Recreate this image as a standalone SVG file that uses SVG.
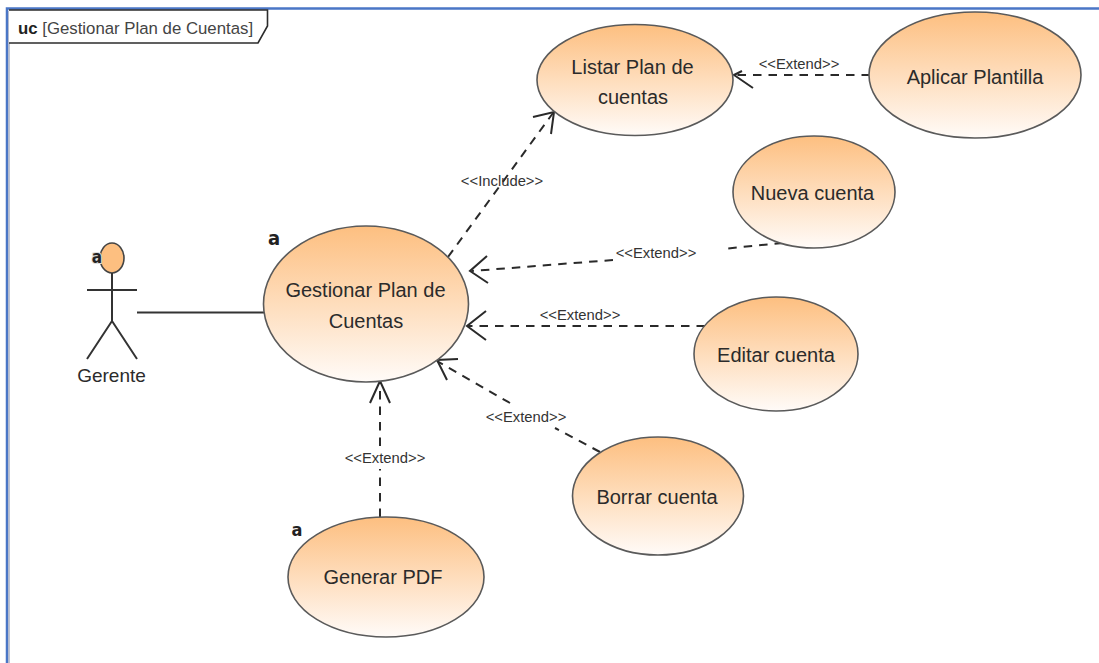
<svg xmlns="http://www.w3.org/2000/svg" width="1099" height="663" viewBox="0 0 1099 663">
<style>
text{font-family:"Liberation Sans",Arial,sans-serif;fill:#2b2b2b}
.uc{fill:url(#g);stroke:#5a5a5a;stroke-width:1.6}
.n{font-size:20px;text-anchor:middle}
.l{font-size:14.800px;text-anchor:middle;fill:#333}
.c{fill:none;stroke:#2a2a2a;stroke-width:2;stroke-dasharray:8.500 7}
.h{fill:none;stroke:#2a2a2a;stroke-width:2}
.s{fill:none;stroke:#333;stroke-width:2}
.a{font-family:"DejaVu Sans",sans-serif;font-stretch:condensed;font-weight:bold;fill:#222;text-anchor:middle}
</style>
<defs>
<linearGradient id="g" x1="0" y1="0" x2="0" y2="1"><stop offset="0" stop-color="#fdbf80"/><stop offset="1" stop-color="#fffbf8"/></linearGradient>
</defs>
<rect width="1099" height="663" fill="#fff"/>
<g id="frame">
<path d="M7 663V8.500H1099" fill="none" stroke="#4a76c6" stroke-width="2.500"/>
<path d="M9 663V11" fill="none" stroke="#a9b1c4" stroke-width="1.500"/>
<path d="M9 10H267.500V26L258 43H9" fill="#fff" stroke="#2c2c2c" stroke-width="1.600"/>
<text x="18" y="34" font-size="16.800"><tspan font-weight="bold" fill="#222">uc</tspan> <tspan fill="#444">[Gestionar Plan de Cuentas]</tspan></text>
</g>
<g id="connectors">
<path class="s" d="M137 312.500H264"/>
<path class="c" d="M448 257L553 113"/><path class="h" d="M533 117L554 112L551 134"/>
<text class="l" x="502" y="186">&lt;&lt;Include&gt;&gt;</text>
<path class="c" d="M870 75H735"/><path class="h" d="M742 71L734 75L753 88"/>
<text class="l" x="799" y="69">&lt;&lt;Extend&gt;&gt;</text>
<path class="c" d="M783 243L722 249M613 260L472 271"/><path class="h" d="M487 256L470 271L488 283"/>
<text class="l" x="656" y="258">&lt;&lt;Extend&gt;&gt;</text>
<path class="c" d="M705 326H468"/><path class="h" d="M486 311L467 326L486 340"/>
<text class="l" x="580" y="320">&lt;&lt;Extend&gt;&gt;</text>
<path class="c" d="M600 452L555 428M510 403L437 361"/><path class="h" d="M458 359L437 360L447 380"/>
<text class="l" x="526" y="422">&lt;&lt;Extend&gt;&gt;</text>
<path class="c" d="M380 517V469M380 446V381"/><path class="h" d="M370 403L380 381L390 403"/>
<text class="l" x="385" y="463">&lt;&lt;Extend&gt;&gt;</text>
</g>
<g id="actor-gerente">
<ellipse cx="112" cy="258" rx="12" ry="15" fill="#fdbf80" stroke="#444" stroke-width="1.600"/>
<path class="s" d="M112 273V321M87 290H137M112 321L87 359M112 321L137 359"/>
<text x="97" y="263" class="a" font-size="17" style="paint-order:stroke" stroke="#ddd" stroke-width="2">a</text>
<text x="111.500" y="382" text-anchor="middle" font-size="19">Gerente</text>
</g>
<g id="uc-listar"><ellipse class="uc" cx="635" cy="80" rx="98" ry="55.500"/>
<text class="n" x="632.500" y="74">Listar Plan de</text><text class="n" x="633" y="104">cuentas</text></g>
<g id="uc-aplicar"><ellipse class="uc" cx="975" cy="75" rx="106" ry="63"/>
<text class="n" x="975" y="84">Aplicar Plantilla</text></g>
<g id="uc-nueva"><ellipse class="uc" cx="814" cy="192" rx="81" ry="56"/>
<text class="n" x="812.500" y="200">Nueva cuenta</text></g>
<g id="uc-gestionar"><ellipse class="uc" cx="366" cy="304" rx="102.500" ry="78"/>
<text class="a" x="274" y="245" font-size="20">a</text>
<text class="n" x="365.500" y="297">Gestionar Plan de</text><text class="n" x="366" y="328">Cuentas</text></g>
<g id="uc-editar"><ellipse class="uc" cx="776" cy="354" rx="82" ry="57"/>
<text class="n" x="776" y="362">Editar cuenta</text></g>
<g id="uc-borrar"><ellipse class="uc" cx="658" cy="496" rx="85.500" ry="59"/>
<text class="n" x="657" y="504">Borrar cuenta</text></g>
<g id="uc-pdf"><ellipse class="uc" cx="386" cy="577" rx="98" ry="60"/>
<text class="a" x="297" y="536" font-size="18">a</text>
<text class="n" x="383" y="584">Generar PDF</text></g>
</svg>
